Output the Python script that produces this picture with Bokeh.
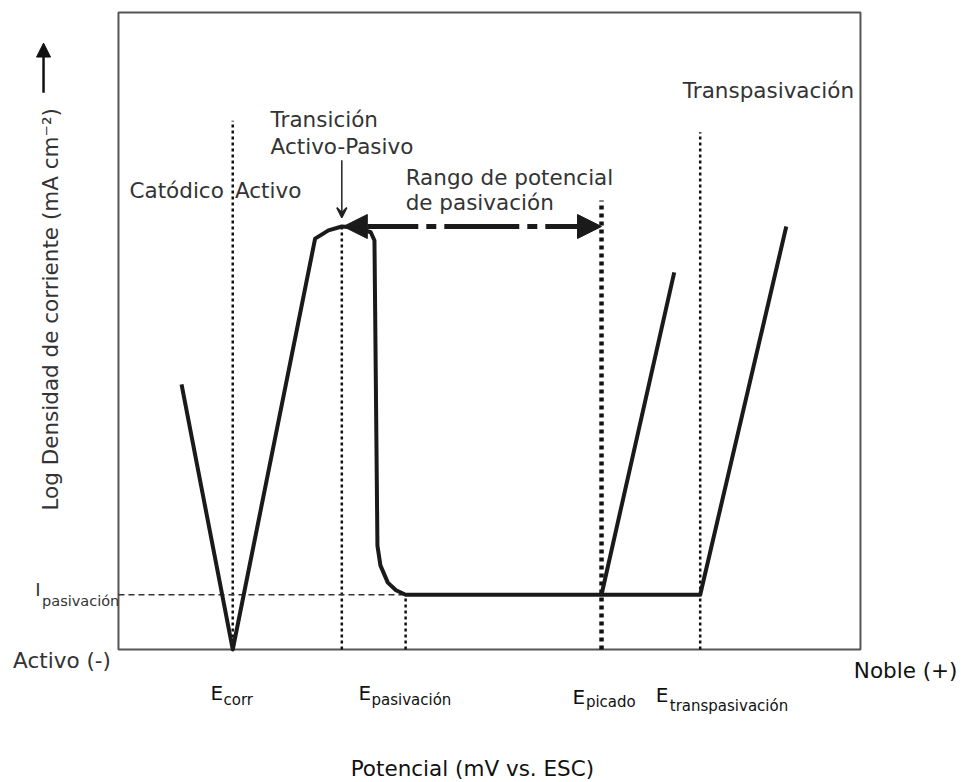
from bokeh.plotting import figure
from bokeh.models import Range1d, Arrow, NormalHead, VeeHead
from bokeh.core.properties import value
from bokeh.embed import file_html
from bokeh.resources import INLINE

# ---- data (schematic units: potential 0-100 across the box, log i 0-100) ----
curve_potential = [8.5, 15.4, 26.5, 28.3, 30.1, 32.2, 34.0, 34.5, 34.9, 35.3, 36.3, 37.4, 38.7, 78.4, 90.0]
curve_logi = [41.6, 0.0, 64.5, 65.8, 66.4, 66.2, 65.5, 64.2, 16.3, 13.2, 10.5, 9.3, 8.6, 8.6, 66.4]
pitting_potential = [65.1, 74.9]
pitting_logi = [8.6, 59.2]

E_corr = 15.4
E_transicion = 30.1
E_pasivacion = 38.7
E_picado = 65.1
E_transpasivacion = 78.4
i_pasivacion = 8.6
i_transicion = 66.4

marker_tops = {"corr": 83.0, "trans": 66.4, "pas": 8.6, "pic": 70.5, "transp": 81.2}

FONT = value("DejaVu Sans")
TXT = "#333333"
MAIN = 21.5

p = figure(width=964, height=782, x_range=Range1d(-15.9, 114.02), y_range=Range1d(-20.88, 101.88),
           x_axis_type=None, y_axis_type=None, toolbar_location=None, output_backend="svg",
           min_border=0, outline_line_color=None)
p.grid.visible = False

# box
p.quad(left=[0], right=[100], bottom=[0], top=[100], fill_color=None, line_color="#555555", line_width=2)

# dotted guide lines
for xv, top in [(E_corr, marker_tops["corr"]), (E_transicion, marker_tops["trans"]),
                (E_pasivacion, marker_tops["pas"]), (E_transpasivacion, marker_tops["transp"])]:
    p.segment(x0=[xv], y0=[0], x1=[xv], y1=[top], line_color="#111111", line_width=2.5, line_dash="3 3")
p.segment(x0=[E_picado], y0=[0], x1=[E_picado], y1=[marker_tops["pic"]], line_color="#111111", line_width=4.5, line_dash="4 4")
p.segment(x0=[0], y0=[i_pasivacion], x1=[E_pasivacion], y1=[i_pasivacion], line_color="#333333", line_width=1.5, line_dash="6 4")

# curves
p.line(curve_potential, curve_logi, line_color="#1a1a1a", line_width=4, line_join="round")
p.line(pitting_potential, pitting_logi, line_color="#1a1a1a", line_width=4)

# double arrow (passivation range)
p.add_layout(Arrow(x_start=E_transicion + 0.2, y_start=i_transicion, x_end=E_picado, y_end=i_transicion,
                   line_width=5, line_color="#1a1a1a", line_dash="75 8 10 8",
                   start=NormalHead(size=24, fill_color="#1a1a1a", line_color="#1a1a1a"),
                   end=NormalHead(size=24, fill_color="#1a1a1a", line_color="#1a1a1a")))
# transition pointer
p.add_layout(Arrow(x_start=E_transicion, y_start=76.8, x_end=E_transicion, y_end=67.8,
                   line_width=1.5, line_color="#222222",
                   end=VeeHead(size=10, fill_color="#222222", line_color="#222222", line_width=1.5)))
# y axis arrow
p.add_layout(Arrow(x_start=-10.1, y_start=87.4, x_end=-10.1, y_end=95.2, line_width=2.5, line_color="#111111",
                   end=NormalHead(size=14, fill_color="#111111", line_color="#111111")))

def txt(x, y, s, size=MAIN, align="left", angle=0, color=TXT, style="normal"):
    p.text(x=[x], y=[y], text=[s], text_font=FONT, text_font_size=f"{size}px", text_align=align,
           text_baseline="middle", angle=angle, text_color=color, text_font_style=style)

txt(20.5, 83.2, "Transición")
txt(20.5, 79.0, "Activo-Pasivo")
txt(E_corr - 1.2, 72.1, "Catódico", align="right")
txt(E_corr + 0.3, 72.1, "Activo")
txt(E_pasivacion, 74.1, "Rango de potencial")
txt(E_pasivacion, 70.2, "de pasivación")
txt(87.6, 87.8, "Transpasivación", align="center")
txt(-9.2, 53.4, "Log Densidad de corriente (mA cm⁻²)", align="center", angle=1.5708)
txt(-14.2, -1.7, "Activo (-)")
txt(99.1, -3.3, "Noble (+)", color="#111111")
txt(47.7, -18.7, "Potencial (mV vs. ESC)", align="center", color="#111111")

# i_pasivacion
txt(-11.2, 9.4, "I", size=18)
txt(-10.3, 7.6, "pasivación", size=14.5)

# E labels
for e_left, sub, s_left, ey, sy in [
    (12.4, "corr", 14.15, -6.8, -8.0),
    (32.35, "pasivación", 34.1, -6.8, -8.0),
    (61.2, "picado", 63.0, -7.5, -8.3),
    (72.4, "transpasivación", 74.3, -7.2, -8.9),
]:
    txt(e_left, ey, "E", size=20, color="#111111")
    txt(s_left, sy, sub, size=15, color="#111111")

open("out.html", "w").write(file_html(p, INLINE))
